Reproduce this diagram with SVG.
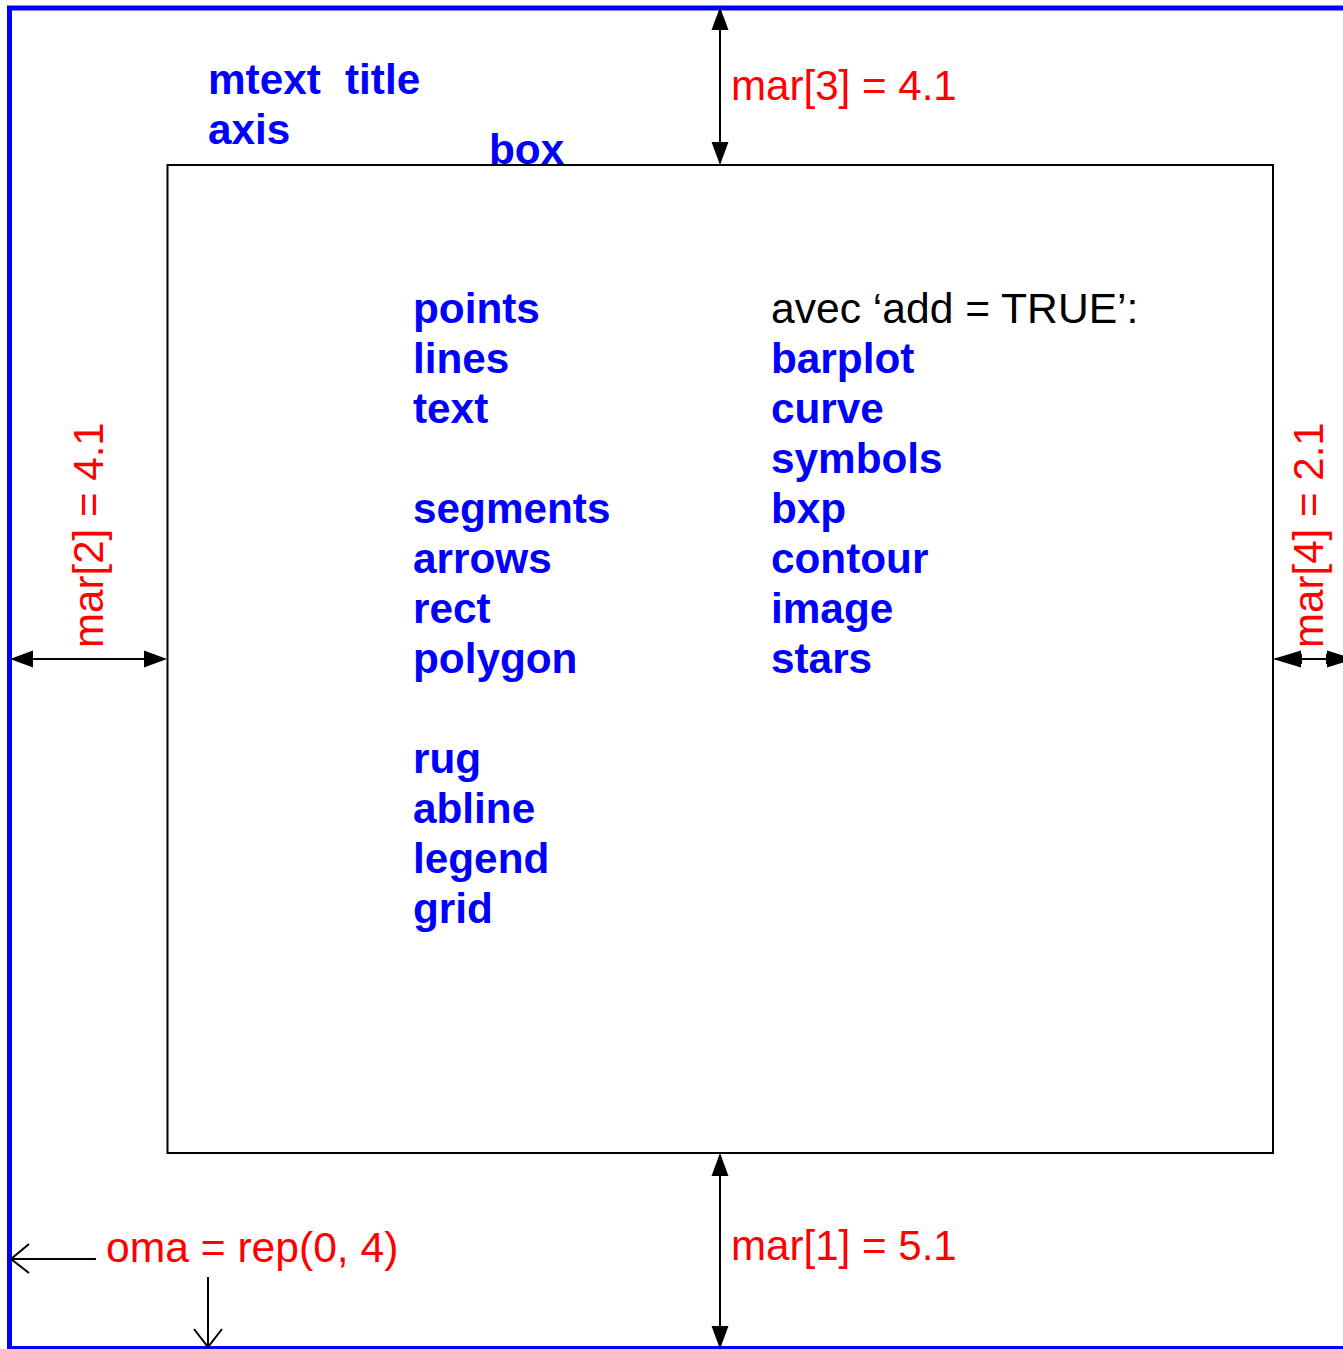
<svg xmlns="http://www.w3.org/2000/svg" width="1343" height="1349" viewBox="0 0 1343 1349">
<style>
.b{font-family:"Liberation Sans",Arial,sans-serif;font-weight:bold;font-size:42.3px;fill:#0000ff}
.n{font-family:"Liberation Sans",Arial,sans-serif;font-size:42.6px;fill:#000}
.r{font-family:"Liberation Sans",Arial,sans-serif;font-size:42.1px;fill:#ff0000}
.ln{stroke:#000;stroke-width:2;fill:none}
.hd{fill:#000;stroke:none}
</style>
<rect width="1343" height="1349" fill="#fff"/>
<g id="outer"><rect x="9.5" y="8" width="1400" height="1340.5" fill="none" stroke="#0000ff" stroke-width="5"/></g>
<g id="plotbox"><rect x="167.5" y="165" width="1105.5" height="988" fill="none" stroke="#000" stroke-width="2"/></g>
<g id="connectors">
<line class="ln" x1="720" y1="10" x2="720" y2="163"/>
<polygon class="hd" points="720,7 711.5,30 728.5,30"/>
<polygon class="hd" points="720,165 711.5,142 728.5,142"/>
<line class="ln" x1="720" y1="1155" x2="720" y2="1346"/>
<polygon class="hd" points="720,1153 711.5,1176 728.5,1176"/>
<polygon class="hd" points="720,1349 711.5,1326 728.5,1326"/>
<line class="ln" x1="12" y1="659" x2="165" y2="659"/>
<polygon class="hd" points="10,659 33,650.5 33,667.5"/>
<polygon class="hd" points="167,659 144,650.5 144,667.5"/>
<line class="ln" x1="1275" y1="659" x2="1351" y2="659"/>
<polygon class="hd" points="1273,659 1301,650.5 1301,667.5"/>
<polygon class="hd" points="1354,659 1327,650.5 1327,667.5"/>
<line class="ln" x1="1301" y1="654" x2="1301" y2="664"/>
<line class="ln" x1="1327" y1="654" x2="1327" y2="664"/>
<line class="ln" x1="96" y1="1259" x2="11" y2="1259"/>
<polyline class="ln" points="29,1244 11,1259 29,1273"/>
<line class="ln" x1="208" y1="1277" x2="208" y2="1347"/>
<polyline class="ln" points="194,1329 208,1347 222,1329"/>
</g>
<g id="margin-labels">
<text class="r" x="731" y="100">mar[3] = 4.1</text>
<text class="r" x="731" y="1260">mar[1] = 5.1</text>
<text class="r" transform="translate(103,648) rotate(-90)">mar[2] = 4.1</text>
<text class="r" transform="translate(1323,648) rotate(-90)">mar[4] = 2.1</text>
<text class="r" x="106" y="1262" style="font-size:42.6px">oma = rep(0, 4)</text>
</g>
<g id="outer-functions">
<text class="b" x="208" y="94">mtext</text>
<text class="b" x="345" y="94">title</text>
<text class="b" x="208" y="144">axis</text>
<text class="b" x="489" y="164">box</text>
</g>
<g id="left-column">
<text class="b" x="413" y="323">points</text>
<text class="b" x="413" y="373">lines</text>
<text class="b" x="413" y="423">text</text>
<text class="b" x="413" y="523">segments</text>
<text class="b" x="413" y="573">arrows</text>
<text class="b" x="413" y="623">rect</text>
<text class="b" x="413" y="673">polygon</text>
<text class="b" x="413" y="773">rug</text>
<text class="b" x="413" y="823">abline</text>
<text class="b" x="413" y="873">legend</text>
<text class="b" x="413" y="923">grid</text>
</g>
<g id="right-column">
<text class="n" x="771" y="323">avec ‘add = TRUE’:</text>
<text class="b" x="771" y="373">barplot</text>
<text class="b" x="771" y="423">curve</text>
<text class="b" x="771" y="473">symbols</text>
<text class="b" x="771" y="523">bxp</text>
<text class="b" x="771" y="573">contour</text>
<text class="b" x="771" y="623">image</text>
<text class="b" x="771" y="673">stars</text>
</g>
</svg>
